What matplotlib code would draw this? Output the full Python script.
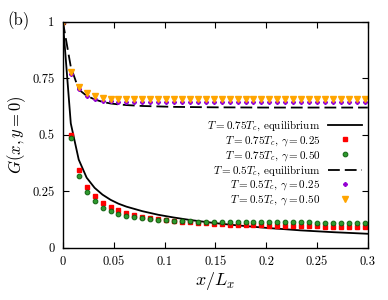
import numpy as np
import matplotlib
matplotlib.use("Agg")
import matplotlib.pyplot as plt

plt.rcParams['font.family'] = 'serif'
plt.rcParams['font.serif'] = ['cmr10', 'DejaVu Serif']
plt.rcParams['mathtext.fontset'] = 'cm'
plt.rcParams['lines.scale_dashes'] = False

# sample positions x/Lx = k/128
k = np.arange(39)
x_pts = k / 128.0

# T = 0.75 Tc, gamma = 0.25 (red squares)
g75_025 = [1.0, 0.500, 0.342, 0.268, 0.228, 0.198, 0.180, 0.165, 0.153, 0.144,
           0.137, 0.131, 0.126, 0.122, 0.118, 0.115, 0.112, 0.110, 0.108, 0.106,
           0.104, 0.103, 0.102, 0.101, 0.100, 0.099, 0.098, 0.097, 0.097, 0.096,
           0.096, 0.095, 0.095, 0.094, 0.094, 0.094, 0.093, 0.093, 0.093]
# T = 0.75 Tc, gamma = 0.50 (green circles)
g75_050 = [1.0, 0.485, 0.318, 0.245, 0.205, 0.178, 0.163, 0.150, 0.142, 0.136,
           0.131, 0.127, 0.124, 0.122, 0.120, 0.118, 0.117, 0.116, 0.115, 0.115,
           0.114, 0.114, 0.114, 0.113, 0.113, 0.113, 0.113, 0.112, 0.112, 0.112,
           0.112, 0.112, 0.111, 0.111, 0.111, 0.111, 0.111, 0.111, 0.111]
# T = 0.5 Tc, gamma = 0.25 (purple)
g50_025 = [1.0, 0.770, 0.700, 0.672, 0.657, 0.651, 0.648, 0.646, 0.645, 0.645,
           0.644, 0.644, 0.644, 0.644, 0.644, 0.643, 0.643, 0.643, 0.643, 0.643,
           0.643, 0.643, 0.643, 0.643, 0.643, 0.643, 0.643, 0.643, 0.643, 0.643,
           0.643, 0.643, 0.643, 0.643, 0.643, 0.643, 0.643, 0.643, 0.643]
# T = 0.5 Tc, gamma = 0.50 (orange triangles)
g50_050 = [1.0, 0.777, 0.711, 0.684, 0.670, 0.663, 0.660, 0.658, 0.657, 0.657,
           0.656, 0.656, 0.656, 0.656, 0.656, 0.656, 0.656, 0.656, 0.656, 0.656,
           0.656, 0.656, 0.656, 0.656, 0.656, 0.656, 0.656, 0.656, 0.656, 0.656,
           0.656, 0.656, 0.656, 0.656, 0.656, 0.656, 0.656, 0.656, 0.656]

# equilibrium curves
x_eq75 = [0.0, 0.0078, 0.0156, 0.0234, 0.03125, 0.039, 0.047, 0.0547, 0.0625,
          0.0781, 0.0938, 0.109, 0.125, 0.141, 0.156, 0.172, 0.1875, 0.203,
          0.219, 0.234, 0.25, 0.266, 0.281, 0.3]
g_eq75 = [1.0, 0.55, 0.39, 0.31, 0.265, 0.235, 0.212, 0.195, 0.182,
          0.162, 0.146, 0.134, 0.123, 0.114, 0.106, 0.099, 0.093, 0.087,
          0.082, 0.077, 0.073, 0.069, 0.066, 0.062]
x_eq50 = [0.0, 0.0078, 0.0156, 0.0234, 0.03125, 0.039, 0.047, 0.0547, 0.0625,
          0.0781, 0.1094, 0.15, 0.2, 0.25, 0.3]
g_eq50 = [1.0, 0.80, 0.70, 0.672, 0.656, 0.645, 0.638, 0.634, 0.631,
          0.627, 0.623, 0.621, 0.620, 0.620, 0.620]

xticks = [0, 0.05, 0.1, 0.15, 0.2, 0.25, 0.3]
xticklabels = ['0', '0.05', '0.1', '0.15', '0.2', '0.25', '0.3']
yticks = [0, 0.25, 0.5, 0.75, 1]
yticklabels = ['0', '0.25', '0.5', '0.75', '1']

fig = plt.figure(figsize=(3.88, 3.0), dpi=100)
ax = fig.add_axes([0.162, 0.174, 0.786, 0.754])

ax.plot(x_eq75, g_eq75, color='black', lw=1.3, label=r'$T=0.75T_c$, equilibrium')
ax.plot(x_pts, g75_025, ls='none', marker='s', ms=2.4, color='#ff0000', mec='#ff0000',
        label=r'$T=0.75T_c$, $\gamma=0.25$')
ax.plot(x_pts, g75_050, ls='none', marker='o', ms=3.4, color='#2e9a2e', mec='#106010', mew=0.7,
        label=r'$T=0.75T_c$, $\gamma=0.50$')
ax.plot(x_eq50, g_eq50, color='black', lw=1.3, dashes=(8.5, 3.6),
        label=r'$T=0.5T_c$, equilibrium')
ax.plot(x_pts, g50_025, ls='none', marker='P', ms=2.6, color='#9400d3', mec='#9400d3',
        label=r'$T=0.5T_c$, $\gamma=0.25$')
ax.plot(x_pts, g50_050, ls='none', marker='v', ms=3.8, color='#ffa500', mec='#ffa500',
        label=r'$T=0.5T_c$, $\gamma=0.50$')

ax.set_xlim(0, 0.3)
ax.set_ylim(0, 1)
ax.set_xticks(xticks)
ax.set_xticklabels(xticklabels)
ax.set_yticks(yticks)
ax.set_yticklabels(yticklabels)
ax.tick_params(direction='in', top=True, right=True, length=4, labelsize=9, pad=6)
for s in ax.spines.values():
    s.set_linewidth(1.0)

ax.set_xlabel(r'$x/L_x$', fontsize=13, labelpad=1)
ax.set_ylabel(r'$G(x,y=0)$', fontsize=12, labelpad=3)
fig.text(0.02, 0.93, '(b)', fontsize=12, va='center')

ax.legend(loc='center right', bbox_to_anchor=(0.985, 0.375), frameon=False,
          markerfirst=False, fontsize=8, handlelength=3.05, labelspacing=0.08,
          handletextpad=0.72, borderpad=0.1, borderaxespad=0)

fig.savefig('out.png', dpi=100)
